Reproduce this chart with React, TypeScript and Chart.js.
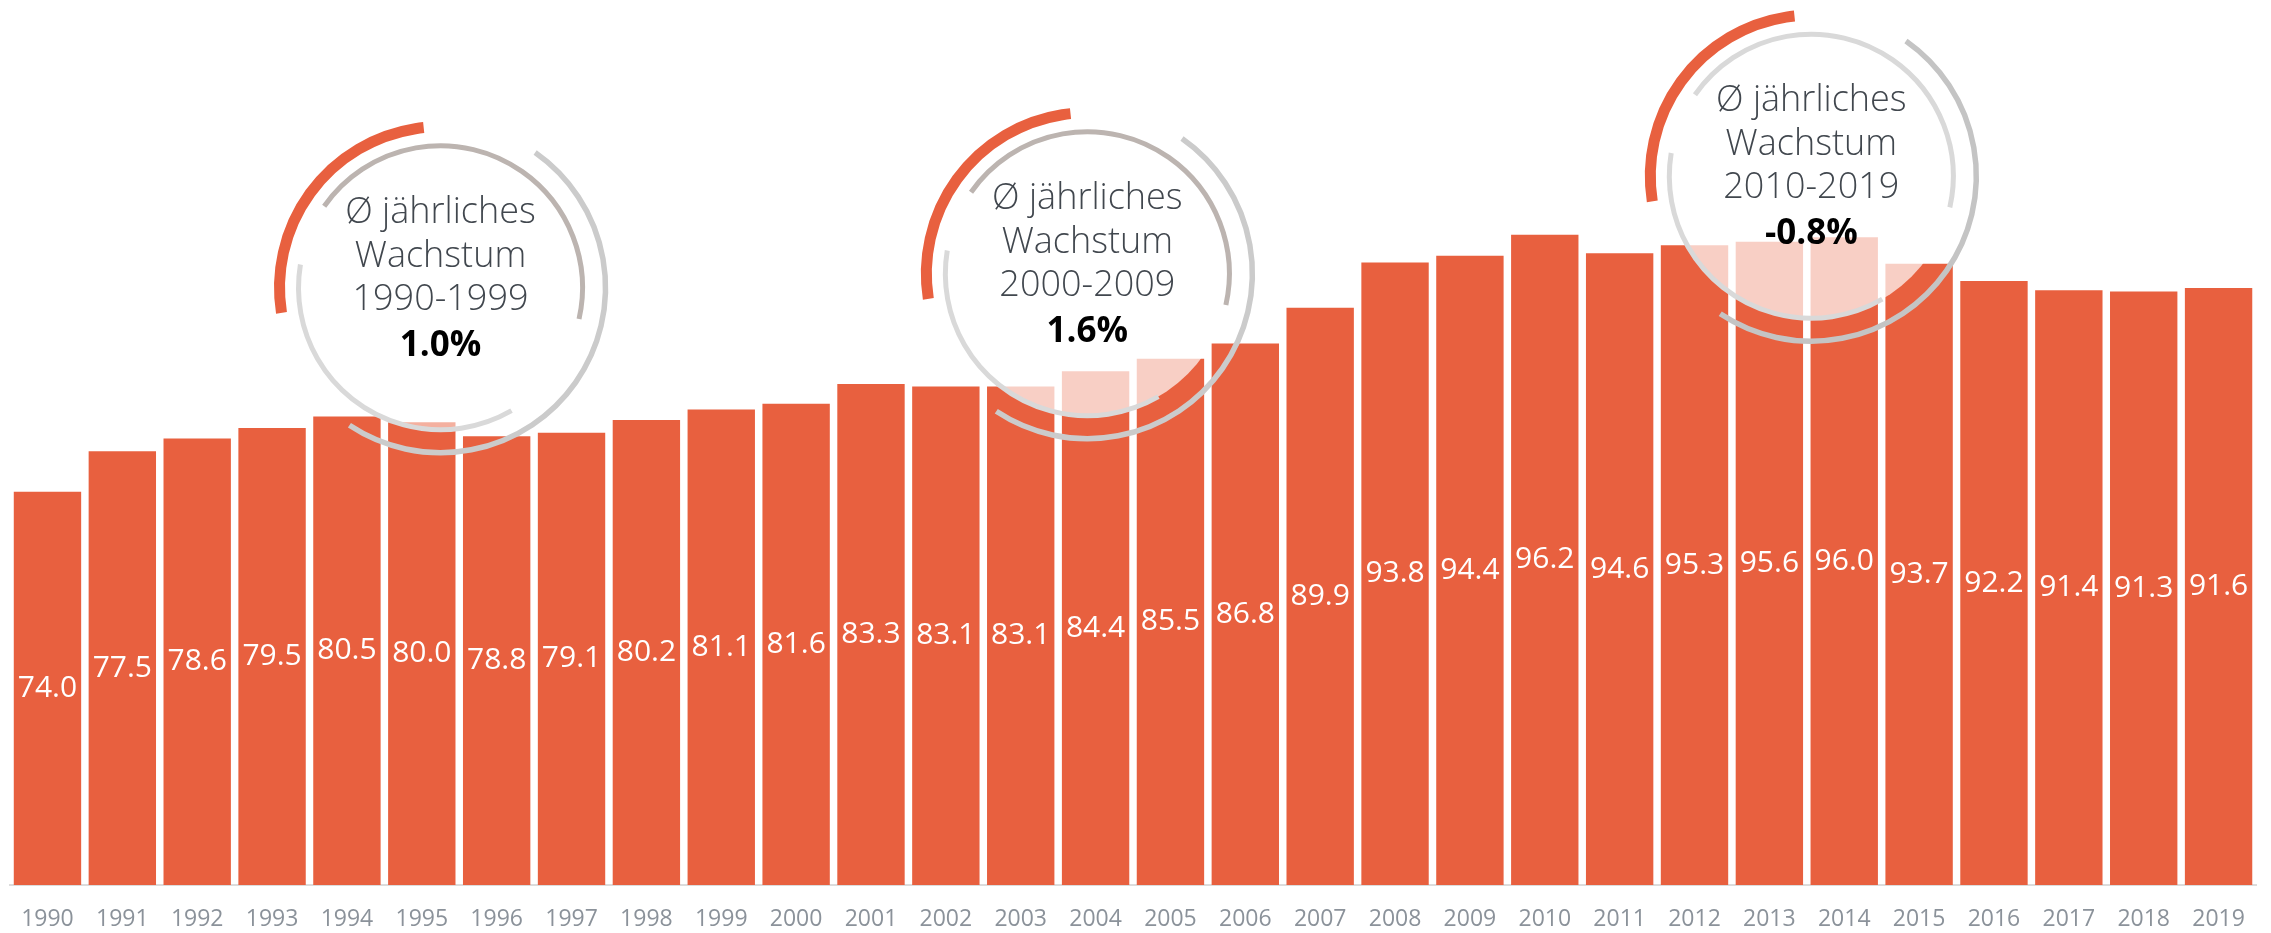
import { useEffect, useRef } from "react";
import { Chart, registerables } from "chart.js";

Chart.register(...registerables);

const FONT = "'Open Sans', 'Noto Sans', sans-serif";

// ---- data ----
const years = [
  "1990", "1991", "1992", "1993", "1994", "1995", "1996", "1997", "1998", "1999",
  "2000", "2001", "2002", "2003", "2004", "2005", "2006", "2007", "2008", "2009",
  "2010", "2011", "2012", "2013", "2014", "2015", "2016", "2017", "2018", "2019",
];
const values = [
  74.0, 77.5, 78.6, 79.5, 80.5, 80.0, 78.8, 79.1, 80.2, 81.1,
  81.6, 83.3, 83.1, 83.1, 84.4, 85.5, 86.8, 89.9, 93.8, 94.4,
  96.2, 94.6, 95.3, 95.6, 96.0, 93.7, 92.2, 91.4, 91.3, 91.6,
];
const headingLines = ["Ø jährliches", "Wachstum"];
const periodLabels = ["1990-1999", "2000-2009", "2010-2019"];
const periodGrowth = ["1.0%", "1.6%", "-0.8%"];

// ---- annotation layout (category index / value position, styles) ----
const circleLayout = [
  { xi: 5.25, yv: 91.63, fillAlpha: 0.5, innerTop: "#bcb4b0", outer: "#cbcbcb" },
  { xi: 13.89, yv: 92.84, fillAlpha: 0.7, innerTop: "#bcb4b0", outer: "#cbcbcb" },
  { xi: 23.56, yv: 101.27, fillAlpha: 0.7, innerTop: "#d9d9d9", outer: "#c4c4c4" },
];

const BAR_COLOR = "#e8603f";
const deg = (d: number) => (d * Math.PI) / 180;

const barLabelPlugin = {
  id: "barLabels",
  afterDatasetsDraw(chart: any) {
    const ctx = chart.ctx;
    const meta = chart.getDatasetMeta(0);
    const bottom = chart.chartArea.bottom;
    ctx.save();
    ctx.fillStyle = "#ffffff";
    ctx.font = `30px ${FONT}`;
    ctx.textAlign = "center";
    ctx.textBaseline = "middle";
    meta.data.forEach((bar: any, i: number) => {
      const { x, y, base } = bar.getProps(["x", "y", "base"], true);
      const b = Math.min(base, bottom);
      ctx.fillText(values[i].toFixed(1), x, (y + b) / 2);
    });
    ctx.restore();
  },
};

const circlePlugin = {
  id: "growthCircles",
  afterDraw(chart: any) {
    const ctx = chart.ctx;
    const xs = chart.scales.x;
    const ys = chart.scales.y;
    circleLayout.forEach((c, i) => {
      const cx = xs.getPixelForValue(c.xi);
      const cy = ys.getPixelForValue(c.yv);
      ctx.save();
      ctx.beginPath();
      ctx.arc(cx, cy, 142, 0, Math.PI * 2);
      ctx.fillStyle = `rgba(255,255,255,${c.fillAlpha})`;
      ctx.fill();
      const arc = (r: number, a0: number, a1: number, color: string, w: number) => {
        ctx.beginPath();
        ctx.arc(cx, cy, r, deg(a0), deg(a1), false);
        ctx.strokeStyle = color;
        ctx.lineWidth = w;
        ctx.lineCap = "butt";
        ctx.stroke();
      };
      arc(165, 305, 483.5, c.outer, 5.5);
      arc(161, 171, 264, BAR_COLOR, 11);
      arc(142, 215, 372.7, c.innerTop, 5);
      arc(142, 60, 189.4, "#d9d9d9", 5);

      ctx.textAlign = "center";
      ctx.textBaseline = "middle";
      ctx.fillStyle = "#41474e";
      ctx.font = `300 36px ${FONT}`;
      ctx.fillText(headingLines[0], cx, cy - 75);
      ctx.fillText(headingLines[1], cx, cy - 31);
      ctx.fillText(periodLabels[i], cx, cy + 12);
      ctx.fillStyle = "#000000";
      ctx.font = `bold 35px ${FONT}`;
      ctx.fillText(periodGrowth[i], cx, cy + 58);
      ctx.restore();
    });
  },
};

export default function App() {
  const canvasRef = useRef<HTMLCanvasElement | null>(null);

  useEffect(() => {
    if (!canvasRef.current) return;
    Chart.defaults.font.family = FONT;
    const chart = new Chart(canvasRef.current, {
      type: "bar",
      data: {
        labels: years,
        datasets: [
          {
            data: values,
            backgroundColor: BAR_COLOR,
            borderWidth: 0,
            barPercentage: 0.9,
            categoryPercentage: 1.0,
          },
        ],
      },
      options: {
        animation: false,
        responsive: false,
        devicePixelRatio: 1,
        layout: { padding: { left: 10, right: 15, top: 0, bottom: 0 } },
        plugins: {
          legend: { display: false },
          tooltip: { enabled: false },
        },
        scales: {
          x: {
            grid: { display: false, drawTicks: false },
            border: { display: true, color: "#dcdcdc", width: 2 },
            ticks: {
              color: "#8b929a",
              font: { size: 23, family: FONT },
              padding: 21,
              maxRotation: 0,
              autoSkip: false,
            },
            afterFit: (scale: any) => {
              scale.height = 48;
            },
          },
          y: {
            display: false,
            min: 40,
            max: 116.5,
          },
        },
      },
      plugins: [barLabelPlugin, circlePlugin],
    });
    return () => chart.destroy();
  }, []);

  return (
    <div
      style={{
        position: "fixed",
        left: 0,
        top: 0,
        width: "2271px",
        height: "933px",
        background: "#ffffff",
      }}
    >
      <canvas ref={canvasRef} width={2271} height={933} style={{ display: "block" }} />
    </div>
  );
}
